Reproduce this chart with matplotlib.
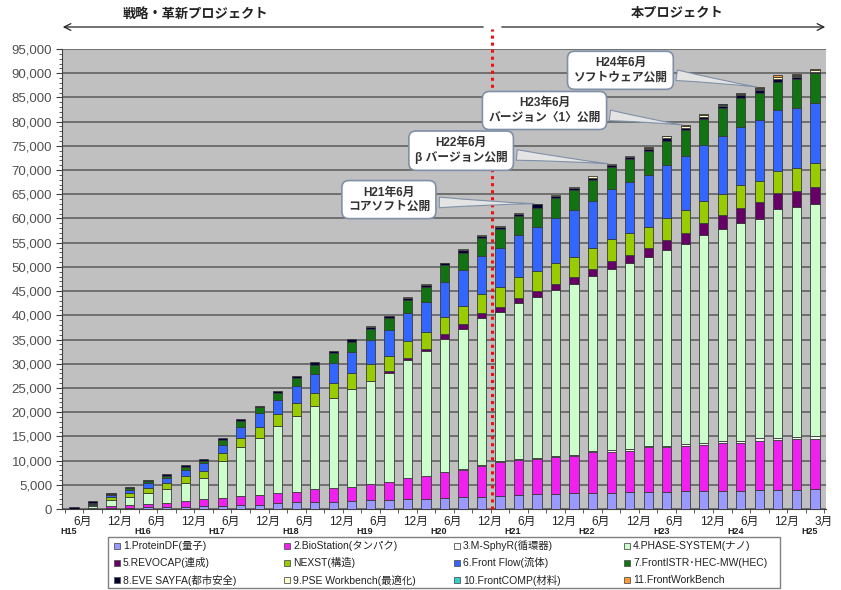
import matplotlib
matplotlib.use("Agg")
import matplotlib.pyplot as plt
import matplotlib.transforms as mtransforms
from matplotlib.patches import Rectangle
from matplotlib.ticker import MultipleLocator, FuncFormatter
import numpy as np

plt.rcParams['font.family'] = ['Liberation Sans', 'Noto Sans CJK JP', 'DejaVu Sans']

# ---------------- data ----------------
series_names = ["1.ProteinDF(量子)", "2.BioStation(タンパク)", "3.M-SphyR(循環器)", "4.PHASE-SYSTEM(ナノ)",
                "5.REVOCAP(連成)", "NEXST(構造)", "6.Front Flow(流体)", "7.FrontISTR･HEC-MW(HEC)",
                "8.EVE SAYFA(都市安全)", "9.PSE Workbench(最適化)", "10.FrontCOMP(材料)", "11.FrontWorkBench"]
colors = ["#9999FF", "#F020F0", "#F8F8F8", "#CCFFCC", "#660066", "#99CC00",
          "#3366FF", "#127312", "#000033", "#FFFFCC", "#33CCCC", "#FF9933"]

protein_df = [0, 100, 200, 280, 350, 400, 480, 620, 700, 780, 900, 1170, 1380, 1500, 1500, 1720, 1860, 1930, 2070, 2070,
              2200, 2410, 2550, 2760, 2960, 3100, 3100, 3240, 3240, 3310, 3440, 3580, 3580, 3720, 3720, 3790, 3790, 3930,
              3930, 3930, 4130]
biostation = [0, 100, 400, 550, 620, 900, 1240, 1380, 1600, 1930, 2000, 2070, 2070, 2550, 2750, 2760, 3300, 3580, 4340,
              4820, 5370, 5650, 6410, 6890, 7170, 7230, 7720, 7790, 8470, 8540, 8610, 9160, 9160, 9230, 9510, 9850, 9850,
              10200, 10400, 10540, 10400]
m_sphyr = [0, 0, 0, 0, 0, 0, 0, 0, 0, 0, 0, 0, 0, 0, 0, 0, 0, 0, 0, 0,
           100, 100, 150, 300, 200, 200, 200, 200, 280, 340, 340, 250, 340, 410, 410, 410, 480, 480, 410, 400, 480]
phase_system = [100, 500, 1200, 1720, 2270, 2750, 3720, 4340, 7600, 10050, 11700, 13900, 15800, 17200, 18600, 20300,
                21200, 22600, 24400, 25700, 27500, 29100, 30300, 30800, 32180, 33350, 34240, 35280, 36100, 37410, 38450,
                39070, 40440, 41410, 42860, 43820, 44920, 45340, 47130, 47400, 47950]
revocap = [0, 0, 0, 0, 0, 0, 0, 0, 0, 0, 0, 0, 0, 0, 0, 0, 100, 340, 410, 480,
           900, 900, 1030, 1030, 1100, 1100, 1240, 1380, 1520, 1720, 1700, 1860, 2070, 2270, 2620, 2760, 3100, 3450,
           3450, 3380, 3580]
nexst = [0, 200, 600, 830, 1100, 1240, 1380, 1580, 1650, 1860, 2400, 2480, 2600, 2750, 3100, 3240, 3580, 3240, 3440,
         3440, 3580, 3720, 4000, 4070, 4270, 4270, 4270, 4130, 4270, 4480, 4550, 4340, 4480, 4620, 4480, 4480, 4690,
         4270, 4410, 4690, 4820]
front_flow = [0, 150, 500, 550, 970, 1030, 1240, 1520, 1700, 2400, 2750, 2900, 3600, 3850, 4130, 4340, 4820, 5300, 5790,
              6200, 7230, 7580, 7720, 8130, 8750, 8960, 9370, 9780, 9710, 10200, 10470, 10820, 10890, 11230, 11510,
              11920, 12060, 12610, 12610, 12540, 12400]
front_istr = [0, 100, 250, 350, 480, 550, 690, 550, 1100, 1240, 1240, 1510, 1600, 1860, 2200, 2200, 2410, 2480, 2760,
              3240, 3440, 3510, 3790, 3790, 3860, 4000, 4070, 4000, 4410, 4620, 4690, 4820, 4960, 5300, 5510, 5790,
              5990, 5720, 5860, 5930, 6200]
eve_sayfa = [300, 550, 150, 200, 200, 280, 340, 280, 350, 400, 350, 400, 480, 550, 350, 550, 340, 340, 410, 410,
             480, 480, 480, 480, 410, 690, 480, 480, 410, 410, 480, 410, 690, 480, 410, 410, 550, 550, 550, 410, 340]
pse_workbench = [0, 0, 0, 0, 0, 0, 0, 0, 0, 0, 0, 0, 0, 0, 0, 100, 100, 100, 100, 100,
                 100, 150, 150, 150, 150, 150, 140, 280, 280, 210, 210, 280, 410, 410, 280, 280, 150, 280, 410, 280, 340]
front_comp = [0] * 33 + [50, 80, 80, 100, 100, 100, 100, 100]
front_workbench = [0] * 31 + [100, 100, 100, 100, 100, 150, 150, 280, 150, 210]

series = [protein_df, biostation, m_sphyr, phase_system, revocap, nexst,
          front_flow, front_istr, eve_sayfa, pse_workbench, front_comp, front_workbench]

# x-axis labels (one every two quarters) and fiscal-year labels
month_labels = ["6月", "12月"] * 10 + ["3月"]
year_labels = ["H15", "H16", "H17", "H18", "H19", "H20", "H21", "H22", "H23", "H24", "H25"]

milestone_texts = ["H21年6月\nコアソフト公開", "H22年6月\nβ バージョン公開",
                   "H23年6月\nバージョン〈1〉公開", "H24年6月\nソフトウェア公開"]
milestone_bars = [25, 29, 33, 37]

# ---------------- figure ----------------
W, H = 841, 590
fig = plt.figure(figsize=(W / 100, H / 100), dpi=100)
ax = fig.add_axes([62 / W, 1 - 509 / H, (826 - 62) / W, (509 - 49) / H])
ax.set_facecolor('#C0C0C0')

n = len(protein_df)
x = np.arange(n)
bottom = np.zeros(n)
for vals, c in zip(series, colors):
    v = np.array(vals, dtype=float)
    lw = np.where(v > 0, 0.6, 0.0)
    ax.bar(x, v, 0.5, bottom=bottom, color=c, edgecolor='#3a3a3a', linewidth=lw, zorder=3)
    bottom += v
totals = bottom

ax.set_xlim(-0.65, 40.6)
ax.set_ylim(0, 95000)
ax.yaxis.set_major_locator(MultipleLocator(5000))
ax.yaxis.set_minor_locator(MultipleLocator(1000))
ax.yaxis.set_major_formatter(FuncFormatter(lambda v, p: f"{int(v):,}"))
ax.grid(axis='y', which='major', color='#5a5a5a', lw=1.1, zorder=1)
ax.set_axisbelow(True)
ax.tick_params(axis='y', which='major', length=4, color='#404040', labelsize=9.5, labelcolor='#505050', pad=3)
ax.tick_params(axis='y', which='minor', length=2.5, color='#404040')
ax.set_xticks([])
ax.set_xticks(np.arange(n + 1) - 0.5, minor=True)
ax.tick_params(axis='x', which='minor', length=3, color='#404040')
for s in ['top', 'right']:
    ax.spines[s].set_visible(False)
ax.spines['left'].set_color('#404040')
ax.spines['bottom'].set_color('#404040')

trans = mtransforms.blended_transform_factory(ax.transData, ax.transAxes)
for k, lab in enumerate(month_labels):
    ax.text(2 * k + 0.45, -0.029, lab, transform=trans, ha='center', va='center', fontsize=8.5, color='#222222')
for k, lab in enumerate(year_labels):
    ax.text(4 * k - 0.3, -0.048, lab, transform=trans, ha='center', va='center', fontsize=6.5,
            fontweight='bold', color='#222222')

# red dotted divider
ax.plot([22.55, 22.55], [0, 99200], color='#EE1111', ls=(0, (1, 1.3)), lw=2.2, clip_on=False, zorder=5)

# callouts
box_pos = [(17.0, 63900), (20.9, 74000), (25.4, 82300), (29.5, 90600)]
for txt, bi, (bx, by) in zip(milestone_texts, milestone_bars, box_pos):
    ax.annotate(txt, xy=(bi, totals[bi]), xytext=(bx, by), ha='center', va='center',
                fontsize=8.5, fontweight='bold', color='#333333', linespacing=1.25,
                bbox=dict(boxstyle='round,pad=0.5,rounding_size=0.6', fc='white', ec='#8090A8', lw=1.2),
                arrowprops=dict(arrowstyle='wedge,tail_width=0.9,shrink_factor=0.4', fc='#E4E4E4',
                                ec='#8090A8', lw=0.8, relpos=(0.93, 0.4)),
                zorder=6)

# top project arrows
y_arr = 1 - 27 / H
ax.annotate('', xy=(60 / W, y_arr), xytext=(486 / W, y_arr), xycoords='figure fraction',
            arrowprops=dict(arrowstyle='->', lw=0.9, color='#222222', mutation_scale=12))
ax.annotate('', xy=(828 / W, y_arr), xytext=(499 / W, y_arr), xycoords='figure fraction',
            arrowprops=dict(arrowstyle='->', lw=0.9, color='#222222', mutation_scale=12))
fig.text(195 / W, 1 - 14 / H, "戦略・革新プロジェクト", ha='center', va='center', fontsize=9.5,
         fontweight='bold', color='#222222')
fig.text(677 / W, 1 - 14 / H, "本プロジェクト", ha='center', va='center', fontsize=9.5,
         fontweight='bold', color='#222222')

# legend box (row-major, 4 columns)
fig.add_artist(Rectangle((108 / W, 1 - 588 / H), 672 / W, 51 / H, transform=fig.transFigure,
                         fc='white', ec='#808080', lw=1.0))
col_x = [117, 287, 457, 627]
row_y = [546, 563, 580]
for k, (name, c) in enumerate(zip(series_names, colors)):
    cx, cy = col_x[k % 4], row_y[k // 4]
    fig.add_artist(Rectangle(((cx - 3) / W, 1 - (cy + 3) / H), 6 / W, 6 / H, transform=fig.transFigure,
                             fc=c, ec='#555555', lw=0.6))
    fig.text((cx + 6) / W, 1 - cy / H, name, ha='left', va='center', fontsize=7.5, color='#222222')

fig.savefig("out.png", dpi=100)
